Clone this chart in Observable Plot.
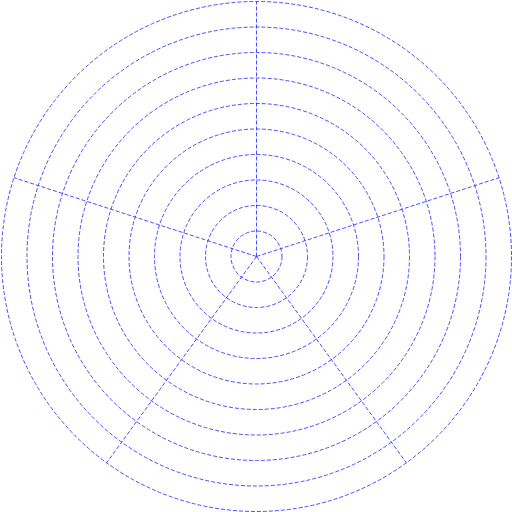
<!DOCTYPE html>
<html>
<head>
<meta charset="utf-8">
<script src="https://cdn.jsdelivr.net/npm/d3@7"></script>
<script src="https://cdn.jsdelivr.net/npm/@observablehq/plot@0.6"></script>
<style>
  html, body { margin: 0; padding: 0; background: #fff; }
</style>
</head>
<body>
<div id="chart"></div>
<script>
const radii = [1, 2, 3, 4, 5, 6, 7, 8, 9, 10];
const spokeAngles = [0, 72, 144, 216, 288]; // degrees clockwise from top
const maxRadius = 10;

const circles = radii.map(r => ({x: 0, y: 0, r}));
const spokes = spokeAngles.map(a => ({
  x1: 0, y1: 0,
  x2: maxRadius * Math.sin(a * Math.PI / 180),
  y2: maxRadius * Math.cos(a * Math.PI / 180)
}));

const gridColor = "#2020ff";

const chart = Plot.plot({
  width: 512,
  height: 512,
  margin: 0,
  x: {domain: [-10, 10], range: [1, 511], axis: null},
  y: {domain: [-10, 10], range: [511, 1], axis: null},
  r: {type: "linear", domain: [0, 10], range: [0, 255]},
  style: {background: "#fff"},
  marks: [
    Plot.dot(circles, {x: "x", y: "y", r: "r", fill: "none", stroke: gridColor, strokeOpacity: 0.8, strokeWidth: 1, strokeDasharray: "4,2"}),
    Plot.link(spokes, {x1: "x1", y1: "y1", x2: "x2", y2: "y2", stroke: gridColor, strokeOpacity: 0.8, strokeWidth: 1, strokeDasharray: "4,2"})
  ]
});
document.getElementById("chart").appendChild(chart);
</script>
</body>
</html>
